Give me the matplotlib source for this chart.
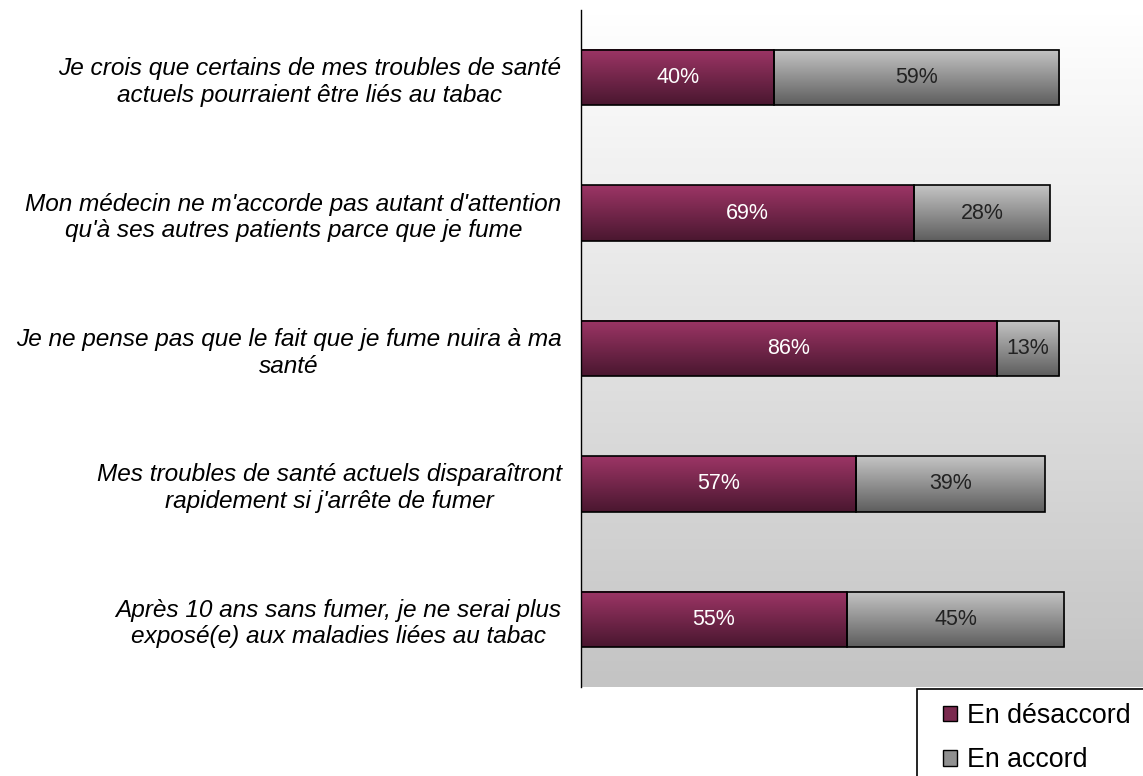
import matplotlib.pyplot as plt
import numpy as np
from matplotlib.patches import Patch, Rectangle

plt.rcParams["font.family"] = ["Liberation Sans", "DejaVu Sans"]

statements = [
    "Je crois que certains de mes troubles de santé\nactuels pourraient être liés au tabac",
    "Mon médecin ne m'accorde pas autant d'attention\nqu'à ses autres patients parce que je fume",
    "Je ne pense pas que le fait que je fume nuira à ma\nsanté",
    "Mes troubles de santé actuels disparaîtront\nrapidement si j'arrête de fumer",
    "Après 10 ans sans fumer, je ne serai plus\nexposé(e) aux maladies liées au tabac",
]
desaccord = [40, 69, 86, 57, 55]
accord = [59, 28, 13, 39, 45]
series_names = ["En désaccord", "En accord"]

MAROON_TOP = "#9c3566"
MAROON_BOT = "#4a172f"
GRAY_TOP = "#c4c4c4"
GRAY_BOT = "#5e5e5e"

W, H = 1143, 776


def vgrad(top, bottom, n=64):
    a = np.array(plt.matplotlib.colors.to_rgb(top))
    b = np.array(plt.matplotlib.colors.to_rgb(bottom))
    t = np.linspace(0, 1, n)[:, None]
    return (a + (b - a) * t)[:, None, :]


fig = plt.figure(figsize=(W / 100, H / 100), dpi=100)
ax = fig.add_axes([581 / W, 1 - 687 / H, 1 - 581 / W, (687 - 10) / H])

y = np.arange(len(statements))
XMAX = 116.3

# background gradient of the plot area
ax.imshow(vgrad("#ffffff", "#c4c4c4", 128), extent=(0, XMAX, len(y) - 0.5, -0.5),
          aspect="auto", zorder=0)

h = 0.41
bars1 = ax.barh(y, desaccord, height=h, facecolor="none", edgecolor="black",
                linewidth=1.2, zorder=3)
bars2 = ax.barh(y, accord, left=desaccord, height=h, facecolor="none",
                edgecolor="black", linewidth=1.2, zorder=3)

for bars, top, bot, tcol in [(bars1, MAROON_TOP, MAROON_BOT, "white"),
                             (bars2, GRAY_TOP, GRAY_BOT, "#222222")]:
    for b in bars:
        x0, y0, w, hh = b.get_x(), b.get_y(), b.get_width(), b.get_height()
        ax.imshow(vgrad(top, bot), extent=(x0, x0 + w, y0 + hh, y0),
                  aspect="auto", zorder=2)
        ax.text(x0 + w / 2, y0 + hh / 2, f"{int(round(w))}%", ha="center",
                va="center", color=tcol, fontsize=15.5, zorder=4)

ax.set_xlim(0, XMAX)
ax.set_ylim(len(y) - 0.5, -0.5)

ax.set_yticks(y)
ax.set_yticklabels(statements, fontsize=17.6, style="italic",
                   multialignment="center")
ax.tick_params(axis="y", length=0, pad=14)
ax.set_xticks([])
for side in ["top", "right", "bottom"]:
    ax.spines[side].set_visible(False)
ax.spines["left"].set_color("black")
ax.spines["left"].set_linewidth(1.0)

# legend frame, running off the right and bottom edges
fig.patches.append(Rectangle((917 / W, -0.05), 0.2, 0.05 + (H - 689) / H,
                             transform=fig.transFigure, facecolor="white",
                             edgecolor="black", linewidth=1.2, zorder=5))

handles = [Patch(facecolor="#7a2a4f", edgecolor="black", label=series_names[0]),
           Patch(facecolor="#909090", edgecolor="black", label=series_names[1])]
leg = fig.legend(handles=handles, loc="upper left",
                 bbox_to_anchor=(943 / W, 1 - 703 / H), fontsize=19.3,
                 frameon=False, handlelength=0.52, handleheight=0.52,
                 handletextpad=0.37, borderpad=0, labelspacing=0.68,
                 borderaxespad=0)
leg.set_zorder(6)

fig.savefig("out.png", dpi=100)
